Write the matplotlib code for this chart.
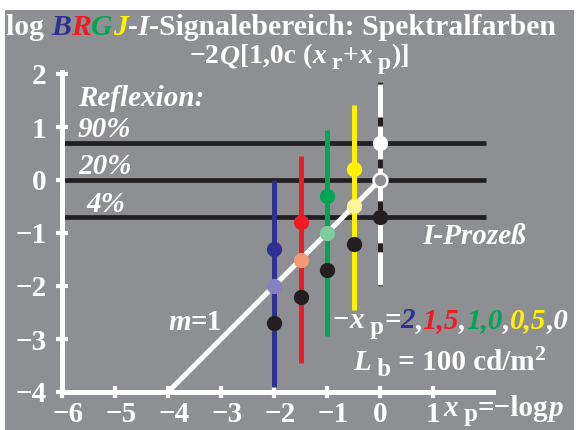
import matplotlib
matplotlib.use("Agg")
import matplotlib.pyplot as plt
from matplotlib.patches import Rectangle
from matplotlib.transforms import IdentityTransform, ScaledTranslation

plt.rcParams['font.family'] = ['Liberation Serif', 'DejaVu Serif']
plt.rcParams['font.weight'] = 'bold'
plt.rcParams['lines.scale_dashes'] = False

# values
xp_values = [-2.0, -1.5, -1.0, -0.5, 0.0]
line_top = [0.0, 0.45, 0.95, 1.42, 1.85]
line_bottom = [-3.9, -3.45, -2.95, -2.45, -2.0]
upper_points = [-1.3, -0.8, -0.3, 0.2, 0.7]
mid_points = [-2.0, -1.5, -1.0, -0.5, 0.0]
lower_points = [-2.7, -2.2, -1.7, -1.2, -0.7]
reflex_levels = [0.7, 0.0, -0.7]
reflex_labels = ["90%", "20%", "4%"]
diag_x = [-4, 0]
diag_y = [-4, 0]
x_ticks = [-6, -5, -4, -3, -2, -1, 0, 1]
y_ticks = [-4, -3, -2, -1, 0, 1, 2]

BG = "#8e8f93"
INK = "#231f20"
line_colors = ["#2e3192", "#ed1c24", "#00a651", "#fff200", "white"]
mid_colors = ["#8781c0", "#f5987a", "#7fcc9c", "#fff799"]

W, H = 578, 430
FS = 21
fig = plt.figure(figsize=(W / 100, H / 100), dpi=100)
fig.patch.set_facecolor("white")
fig.patches.append(Rectangle((5 / W, 0), 569 / W, 420 / H, transform=fig.transFigure,
                             facecolor=BG, edgecolor="none", zorder=-10))

ax = fig.add_axes([0, 0, 1, 1])
ax.patch.set_alpha(0)
# 53 px per unit, origin at pixel (380, 180)
ax.set_xlim(-380 / 53, (W - 380) / 53)
ax.set_ylim((180 - H) / 53, 180 / 53)

for s in ["top", "right"]:
    ax.spines[s].set_visible(False)
ax.spines["left"].set_position(("data", -6))
ax.spines["left"].set_bounds(-4, 2.03)
ax.spines["bottom"].set_position(("data", -4))
ax.spines["bottom"].set_bounds(-6, 2.13)
for s in ["left", "bottom"]:
    ax.spines[s].set_color("white")
    ax.spines[s].set_linewidth(3.6)
ax.set_xticks(x_ticks)
ax.set_yticks(y_ticks)
ax.set_xticklabels([str(v).replace("-", "\u2212") for v in x_ticks])
ax.set_yticklabels([str(v).replace("-", "\u2212") for v in y_ticks])
ax.tick_params(direction="inout", length=8.6, width=3, color="white",
               labelcolor="white", labelsize=FS)
ax.tick_params(axis="y", pad=7)
ax.tick_params(axis="x", pad=2.5)
# digits sit on the tick, minus sign hangs to the left
for lab in ax.get_xticklabels():
    if lab.get_text().startswith("\u2212"):
        lab.set_transform(lab.get_transform() + ScaledTranslation(6 / 100, 0, fig.dpi_scale_trans))

# reflexion levels
for lev in reflex_levels:
    ax.plot([-6, 2.0], [lev, lev], color=INK, lw=3.4, solid_capstyle="butt", zorder=2)

# diagonal m=1
ax.plot(diag_x, diag_y, color="white", lw=3.6, solid_capstyle="butt", zorder=3)

# vertical ranges
for i, x in enumerate(xp_values):
    ax.plot([x, x], [line_bottom[i], line_top[i]], color=line_colors[i], lw=3.6,
            solid_capstyle="butt", zorder=4)
# black dashes on the white x=0 line
ax.plot([0, 0], [line_top[4], line_bottom[4]], color=INK, lw=3.6,
        linestyle=(5, (6.5, 23.7)), dash_capstyle="butt", zorder=5)

# points
for i, x in enumerate(xp_values):
    ax.plot(x, upper_points[i], "o", ms=11, color=line_colors[i], mec="none", zorder=6)
    ax.plot(x, lower_points[i], "o", ms=11, color=INK, mec="none", zorder=6)
    if i < 4:
        ax.plot(x, mid_points[i], "o", ms=11, color=mid_colors[i], mec="none", zorder=6)
    else:
        ax.plot(x, mid_points[i], "o", ms=10, color=BG, mec="white", mew=1.8, zorder=6)

renderer = fig.canvas.get_renderer()


def draw_runs(x, y, runs, size=FS):
    # runs: (text, colour, italic, scale, shift down in px)
    for text, color, ital, scale, shift in runs:
        t = fig.text(x, H - y - shift, text, color=color, fontsize=size * scale,
                     style="italic" if ital else "normal", weight="bold",
                     ha="left", va="baseline", transform=IdentityTransform())
        x += t.get_window_extent(renderer).width


wh = "white"
draw_runs(6, 35, [("log ", wh, False, 1, 0), ("B", line_colors[0], True, 1, 0),
                  ("R", line_colors[1], True, 1, 0), ("G", line_colors[2], True, 1, 0),
                  ("J", line_colors[3], True, 1, 0), ("-", wh, False, 1, 0),
                  ("I", wh, True, 1, 0), ("-Signalebereich: Spektralfarben", wh, False, 1, 0)],
          size=21.4)
draw_runs(190, 63, [("\u22122", wh, False, 1, 0), ("Q", wh, True, 1, 0),
                    ("[1,0c (", wh, False, 1, 0), ("x", wh, True, 1, 0),
                    (" r", wh, False, 0.85, 6), ("+", wh, False, 1, 0),
                    ("x", wh, True, 1, 0), (" p", wh, False, 0.85, 6),
                    (")]", wh, False, 1, 0)], size=20)

draw_runs(78, 106, [("Reflexion:", wh, True, 1, 0)])
for lab, yb, xl in zip(reflex_labels, [137, 174, 212], [78, 78, 86]):
    draw_runs(xl, yb, [(lab, wh, True, 1, 0)])
draw_runs(422, 244, [("I-Prozeß", wh, True, 1, 0)])
draw_runs(168, 330, [("m", wh, True, 1, 0), ("=1", wh, False, 1, 0)])
draw_runs(333, 328, [("\u2212", wh, False, 1, 0), ("x", wh, True, 1, 0),
                     (" p", wh, False, 0.85, 6), ("=", wh, False, 1, 0),
                     ("2", line_colors[0], True, 1, 0), (",", wh, True, 1, 0),
                     ("1,5", line_colors[1], True, 1, 0), (",", wh, True, 1, 0),
                     ("1,0", line_colors[2], True, 1, 0), (",", wh, True, 1, 0),
                     ("0,5", line_colors[3], True, 1, 0), (",0", wh, True, 1, 0)])
draw_runs(353, 370, [("L", wh, True, 1, 0), (" b", wh, False, 0.85, 6),
                     (" = 100 cd/m", wh, False, 1, 0), ("2", wh, False, 0.75, -10)])
draw_runs(443, 416, [("x", wh, True, 1, 0), (" p", wh, False, 0.85, 5),
                     ("=\u2212log", wh, False, 1, 0), ("p", wh, True, 1, 0)])

fig.savefig("out.png", dpi=100, facecolor=fig.get_facecolor())
